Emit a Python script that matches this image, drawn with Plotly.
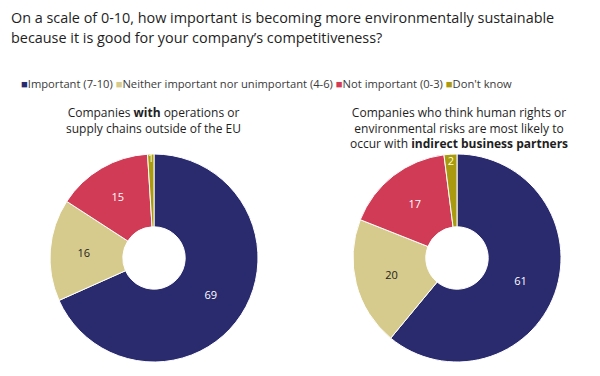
import plotly.graph_objects as go

categories = ["Important (7-10)", "Neither important nor unimportant (4-6)", "Not important (0-3)", "Don't know"]
values_outside_eu = [69, 16, 15, 1]
values_indirect = [61, 20, 17, 2]
colors = ["#2a2a6e", "#d6cb8c", "#d13b56", "#a99a0f"]
text_colors = ["#ffffff", "#222222", "#ffffff", "#ffffcc"]
title_lines = ["On a scale of 0-10, how important is becoming more environmentally sustainable",
               "because it is good for your company’s competitiveness?"]

FONT = "Open Sans"

fig = go.Figure()
for vals, dom in [
    (values_outside_eu, dict(x=[50/600, 258/600], y=[14/376, 222/376])),
    (values_indirect, dict(x=[353/600, 561/600], y=[14/376, 222/376])),
]:
    fig.add_trace(go.Pie(
        labels=categories, values=vals, marker=dict(colors=colors, line=dict(color="white", width=1)),
        hole=0.3, sort=False, direction="clockwise", rotation=0,
        textinfo="value", textposition="inside", insidetextorientation="horizontal",
        textfont=dict(family=FONT, size=11, color=text_colors),
        domain=dom, showlegend=False,
    ))

legend_text = " ".join(
    f'<span style="color:{c}">■</span>{lab}' for lab, c in zip(categories, colors)
)
fig.add_annotation(text=legend_text, x=19/600, y=1 - 84/376, xref="paper", yref="paper",
                   xanchor="left", yanchor="middle", showarrow=False,
                   font=dict(family=FONT, size=11.2, color="#3a3a3a"))

for i, line in enumerate(title_lines):
    fig.add_annotation(text=line, x=9/600, y=1 - (18 + 19 * i)/376, xref="paper", yref="paper",
                       xanchor="left", yanchor="middle", showarrow=False,
                       font=dict(family=FONT, size=14.4, color="#1e1e1e"))
fig.add_annotation(text="Companies <b>with</b> operations or<br>supply chains outside of the EU",
                   x=153/600, y=1 - 102/376, xref="paper", yref="paper", xanchor="center", yanchor="top",
                   align="center", showarrow=False, font=dict(family=FONT, size=12, color="#1e1e1e"))
fig.add_annotation(text="Companies who think human rights or<br>environmental risks are most likely to<br>occur with <b>indirect business partners</b>",
                   x=459/600, y=1 - 102/376, xref="paper", yref="paper", xanchor="center", yanchor="top",
                   align="center", showarrow=False, font=dict(family=FONT, size=12, color="#1e1e1e"))

fig.update_layout(
    width=600, height=376, margin=dict(l=0, r=0, t=0, b=0),
    paper_bgcolor="white", plot_bgcolor="white",
    uniformtext=dict(minsize=11, mode="show"),
)
fig.write_html("out.html", post_script="document.body.style.margin='0';",
               config={"displayModeBar": False})
